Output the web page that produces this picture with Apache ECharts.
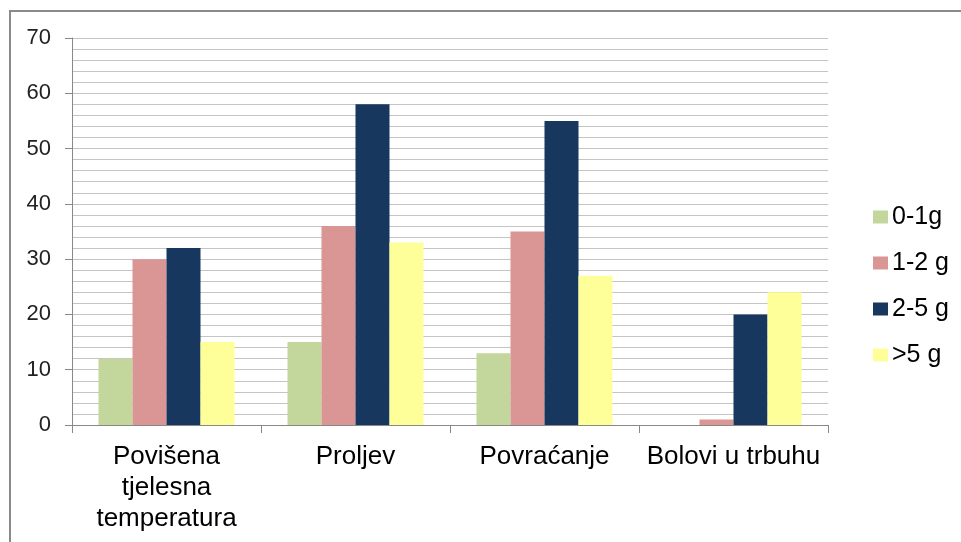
<!DOCTYPE html>
<html>
<head>
<meta charset="utf-8">
<script src="https://cdn.jsdelivr.net/npm/echarts@6/dist/echarts.min.js"></script>
<style>
  html, body { margin: 0; padding: 0; background: #fff; }
  #chart { width: 961px; height: 542px; }
</style>
</head>
<body>
<div id="chart"></div>
<script>
// kategorije i serije
const categories = ['Povišena\ntjelesna\ntemperatura', 'Proljev', 'Povraćanje', 'Bolovi u trbuhu'];
const seriesNames = ['0-1g', '1-2 g', '2-5 g', '>5 g'];
const s01 = [12, 15, 13, 0];
const s12 = [30, 36, 35, 1];
const s25 = [32, 58, 55, 20];
const s5plus = [15, 33, 27, 24];
const colors = ['#c3d69b', '#d99694', '#17375e', '#ffff99'];

const chart = echarts.init(document.getElementById('chart'));

const dataSets = [s01, s12, s25, s5plus];

chart.setOption({
  animation: false,
  textStyle: { fontFamily: 'Liberation Sans, Arial, sans-serif' },
  grid: { left: 72, right: 133, top: 38, bottom: 117 },
  legend: {
    orient: 'vertical',
    left: 868,
    top: 199,
    itemWidth: 15,
    itemHeight: 13,
    itemGap: 20,
    icon: 'rect',
    data: seriesNames,
    textStyle: { fontSize: 25, color: '#000', lineHeight: 26, padding: [0, 0, 0, -1] }
  },
  xAxis: {
    type: 'category',
    data: categories,
    axisLine: { lineStyle: { color: '#888' } },
    axisTick: { show: true, length: 8, lineStyle: { color: '#888' } },
    axisLabel: { fontSize: 26, color: '#000', lineHeight: 31, margin: 16, interval: 0 }
  },
  yAxis: {
    type: 'value',
    min: 0,
    max: 70,
    interval: 10,
    axisLine: { show: true, lineStyle: { color: '#888' } },
    axisTick: { show: true, length: 7, lineStyle: { color: '#888' } },
    axisLabel: { fontSize: 22, color: '#222', margin: 21 },
    splitLine: { lineStyle: { color: '#c4c4c4', width: 1 } },
    minorTick: { show: false, splitNumber: 5 },
    minorSplitLine: { show: true, lineStyle: { color: '#c4c4c4', width: 1 } }
  },
  series: dataSets.map((d, i) => ({
    name: seriesNames[i],
    type: 'bar',
    data: d,
    barWidth: 34,
    barGap: '0%',
    itemStyle: { color: colors[i] }
  })),
  graphic: [{
    type: 'polyline',
    shape: { points: [[10, 542], [10, 11], [961, 11]] },
    style: { stroke: '#8a8a8a', lineWidth: 2, fill: null }
  }]
});
</script>
</body>
</html>
